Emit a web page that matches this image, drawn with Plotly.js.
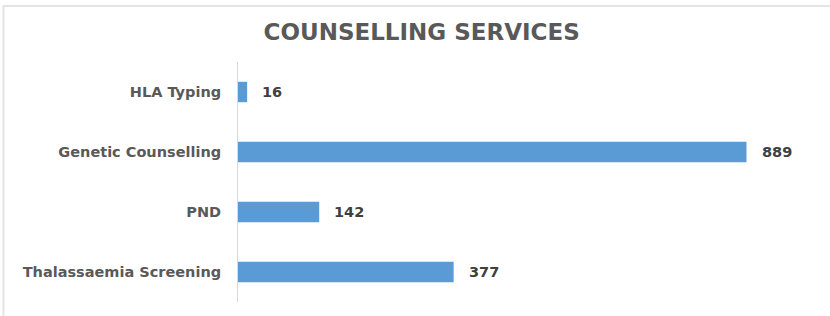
<!DOCTYPE html>
<html>
<head>
<meta charset="utf-8">
<script src="https://cdn.plot.ly/plotly-3.0.1.min.js"></script>
<style>
  html, body { margin: 0; padding: 0; background: #ffffff; }
  #chart { width: 830px; height: 316px; }
</style>
</head>
<body>
<div id="chart"></div>
<script>
const categories = ["HLA Typing", "Genetic Counselling", "PND", "Thalassaemia Screening"];
const values = [16, 889, 142, 377];
const chartTitle = "COUNSELLING SERVICES";

const fontFamily = "'DejaVu Sans', sans-serif";
const L = 238, R = 20, T = 62, B = 14, W = 830, H = 316;
const pw = W - L - R, ph = H - T - B;

const trace = {
  type: "bar",
  orientation: "h",
  x: values,
  y: categories,
  marker: { color: "#5b9bd5" },
  hoverinfo: "x+y"
};

const annotations = values.map((v, i) => ({
  x: v, y: categories[i], xref: "x", yref: "y",
  text: String(v), showarrow: false,
  xanchor: "left", yanchor: "middle", xshift: 13,
  font: { family: fontFamily, size: 14.5, color: "#404040", weight: "bold" }
}));

const layout = {
  width: W, height: H,
  margin: { l: L, r: R, t: T, b: B, pad: 0 },
  paper_bgcolor: "#ffffff",
  plot_bgcolor: "#ffffff",
  showlegend: false,
  bargap: 0.66,
  title: {
    text: "<b>" + chartTitle + "</b>",
    x: 0.508, xanchor: "center",
    y: 1 - 32 / H, yanchor: "middle",
    font: { family: fontFamily, size: 23, color: "#595959" }
  },
  xaxis: {
    range: [0, 1000],
    showgrid: false, zeroline: false, showline: false,
    showticklabels: false, ticks: "", fixedrange: true
  },
  yaxis: {
    autorange: "reversed",
    showgrid: false, zeroline: false,
    showline: true, linecolor: "#d9d9d9", linewidth: 1,
    ticks: "", ticklabelstandoff: 13,
    tickfont: { family: fontFamily, size: 14.5, color: "#595959", weight: "bold" },
    fixedrange: true
  },
  annotations: annotations,
  shapes: [{
    type: "rect", xref: "paper", yref: "paper", layer: "below",
    x0: (3.5 - L) / pw, x1: (W + 10 - L) / pw,
    y0: ((H - B) - (H + 10)) / ph, y1: ((H - B) - 6) / ph,
    line: { color: "#e4e4e4", width: 2 }, fillcolor: "rgba(0,0,0,0)"
  }]
};

Plotly.newPlot("chart", [trace], layout, { displayModeBar: false, staticPlot: true });
</script>
</body>
</html>
